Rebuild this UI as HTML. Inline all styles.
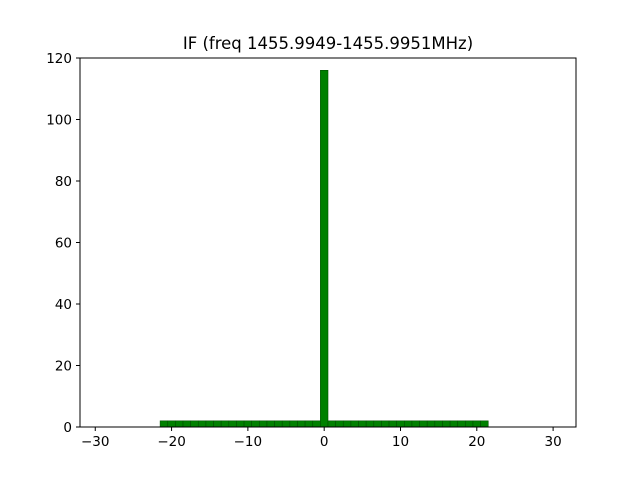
<!DOCTYPE html>
<html><head><meta charset="utf-8"><style>
body{margin:0;background:#fff;font-family:"DejaVu Sans","Liberation Sans",sans-serif;}
</style></head><body>
<svg width="640" height="480" xmlns="http://www.w3.org/2000/svg" font-family="DejaVu Sans, Liberation Sans, sans-serif">
<rect width="640" height="480" fill="#fff"/>
<text x="328" y="49" text-anchor="middle" font-size="16.5">IF (freq 1455.9949-1455.9951MHz)</text>
<g id="bars"></g>
<rect x="80" y="58" width="496" height="369" fill="none" stroke="#000" stroke-width="1"/>
<g id="xt"></g><g id="yt"></g>
</svg>
<script>
const categories=[-21,-20,-19,-18,-17,-16,-15,-14,-13,-12,-11,-10,-9,-8,-7,-6,-5,-4,-3,-2,-1,0,1,2,3,4,5,6,7,8,9,10,11,12,13,14,15,16,17,18,19,20,21];
const counts=[2,2,2,2,2,2,2,2,2,2,2,2,2,2,2,2,2,2,2,2,2,116,2,2,2,2,2,2,2,2,2,2,2,2,2,2,2,2,2,2,2,2,2];
const xTicks=[-30,-20,-10,0,10,20,30];
const yTicks=[0,20,40,60,80,100,120];
const NS="http://www.w3.org/2000/svg";
const X0=80,X1=576,XMIN=-32.0,XMAX=33.0,Y0=427,Y1=58,YMAX=120;
const xs=v=>X0+(v-XMIN)/(XMAX-XMIN)*(X1-X0);
const ys=v=>Y0-v/YMAX*(Y0-Y1);
function mk(t,a,p){const e=document.createElementNS(NS,t);for(const k in a)e.setAttribute(k,a[k]);p.appendChild(e);return e;}
const bg=document.getElementById('bars');
categories.forEach((c,i)=>{
 const x=xs(c-0.5),w=xs(c+0.5)-x,y=ys(counts[i]);
 const r=mk('rect',{x:x,y:y,width:w,height:Y0-y,fill:'#008000',stroke:'#005000','stroke-width':0.6},bg);
 
 
});
const xt=document.getElementById('xt');
xTicks.forEach(v=>{const x=xs(v);
 mk('line',{x1:x,x2:x,y1:Y0,y2:Y0+4,stroke:'#000'},xt);
 const t=mk('text',{x:x,y:Y0+19,'text-anchor':'middle','font-size':13.5},xt);
 t.textContent=v<0?'\u2212'+(-v):v;
 
 
});
const yt=document.getElementById('yt');
yTicks.forEach(v=>{const y=ys(v);
 mk('line',{x1:X0-4,x2:X0,y1:y,y2:y,stroke:'#000'},yt);
 const t=mk('text',{x:X0-8,y:y+5,'text-anchor':'end','font-size':13.5},yt);
 t.textContent=v;
 
 
});
</script>
</body></html>
